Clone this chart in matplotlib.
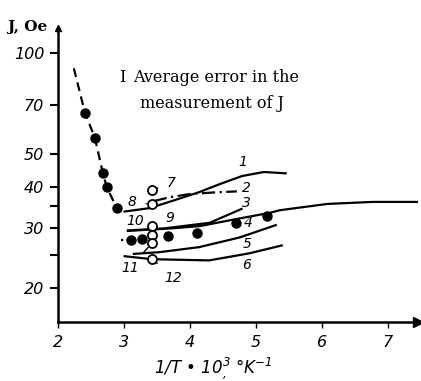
import numpy as np
import matplotlib
matplotlib.use("Agg")
import matplotlib.pyplot as plt
from matplotlib.ticker import NullFormatter

plt.rcParams['font.family'] = ['DejaVu Sans']
plt.rcParams['mathtext.fontset'] = 'custom'
plt.rcParams['mathtext.rm'] = 'DejaVu Sans:italic'
plt.rcParams['mathtext.it'] = 'DejaVu Sans:italic'

# ---- data ----
dash_x = [2.24, 2.41, 2.56, 2.68, 2.74, 2.89]
dash_y = [90.0, 66.2, 55.8, 43.8, 39.8, 34.5]
dash2_x = [2.96, 3.08]
dash2_y = [27.7, 27.7]

pts_x = [2.41, 2.56, 2.68, 2.74, 2.89, 3.11, 3.28, 3.66, 4.11, 4.70, 5.17]
pts_y = [66.2, 55.8, 43.8, 39.8, 34.5, 27.7, 28.0, 28.4, 29.0, 31.1, 32.6]

c1_x = [3.01, 3.39, 3.76, 4.14, 4.44, 4.79, 5.12, 5.45]
c1_y = [33.7, 34.5, 36.4, 38.5, 40.6, 43.0, 44.2, 43.8]
c2_x = [3.45, 3.70, 4.00, 4.35, 4.71]
c2_y = [36.2, 37.2, 38.0, 38.4, 38.7]
c3_x = [3.06, 3.60, 4.30, 4.78]
c3_y = [29.6, 30.0, 31.2, 34.3]
c4_x = [3.06, 3.30, 3.70, 4.15, 4.70, 5.21, 5.36, 6.08, 6.77, 7.48]
c4_y = [29.5, 29.7, 30.0, 30.5, 32.0, 33.4, 34.0, 35.5, 36.0, 36.0]
c5_x = [3.15, 3.54, 4.14, 4.75, 5.30]
c5_y = [25.2, 25.5, 26.4, 28.2, 30.7]
c6_x = [3.01, 3.42, 4.29, 4.90, 5.39]
c6_y = [24.8, 24.3, 24.1, 25.3, 26.7]

open_x = [3.42, 3.42, 3.42, 3.42, 3.42, 3.42]
open_y = [39.0, 35.4, 30.5, 28.6, 27.1, 24.4]
open_labels = ['7', '8', '9', '10', '11', '12']
open_label_pos = [(3.72, 41.0), (3.12, 36.0), (3.70, 32.2), (3.17, 31.6), (3.09, 22.9), (3.75, 21.4)]

curve_labels = ['1', '2', '3', '4', '5', '6']
curve_label_pos = [(4.80, 47.3), (4.86, 39.6), (4.86, 35.7), (4.88, 31.1), (4.86, 27.0), (4.86, 23.4)]

xticks = [2, 3, 4, 5, 6, 7]
yticks = [20, 30, 40, 50, 70, 100]
yminor = [25, 35]

# ---- figure ----
fig = plt.figure(figsize=(4.21, 3.81), dpi=100)
ax = fig.add_axes([58/421, (381-322)/381, (418-58)/421, (322-28)/381])
ax.set_yscale('log')
ax.set_xlim(2, 2 + (418-58)/66.0)
ax.set_ylim(10**(2-(322-53)/335.6), 10**(2+(53-28)/335.6))

lw = 1.6
ax.plot(dash_x, dash_y, color='black', lw=lw, ls=(0, (4, 2.5)))
ax.plot(dash2_x, dash2_y, color='black', lw=lw, ls=(0, (1, 1.5, 3, 1.5)))
ax.plot(c1_x, c1_y, color='black', lw=lw)
ax.plot(c2_x, c2_y, color='black', lw=lw, ls=(0, (6, 2, 1, 2)))
ax.plot(c3_x, c3_y, color='black', lw=lw)
ax.plot(c4_x, c4_y, color='black', lw=lw)
ax.plot(c5_x, c5_y, color='black', lw=lw)
ax.plot(c6_x, c6_y, color='black', lw=lw)
ax.plot(pts_x, pts_y, 'o', color='black', ms=6.5, ls='none', zorder=4)
ax.plot(open_x, open_y, 'o', mfc='white', mec='black', mew=1.3, ms=6.5, ls='none', zorder=5)

for lab, (tx, ty), ox, oy in zip(open_labels, open_label_pos, open_x, open_y):
    ax.annotate(lab, xy=(ox, oy), xytext=(tx, ty), fontsize=10, style='italic',
                ha='center', va='center',
                arrowprops=dict(arrowstyle='-', lw=1.0, color='black', shrinkA=5, shrinkB=4))

for lab, (tx, ty) in zip(curve_labels, curve_label_pos):
    ax.text(tx, ty, lab, fontsize=10, style='italic', ha='center', va='center')

# axes styling
for s in ['top', 'right']:
    ax.spines[s].set_visible(False)
for s in ['left', 'bottom']:
    ax.spines[s].set_linewidth(1.8)
ax.set_xticks(xticks)
ax.set_xticklabels([str(v) for v in xticks], fontsize=11.5, style='italic')
ax.set_yticks(yticks)
ax.set_yticklabels([str(v) for v in yticks], fontsize=11.5, style='italic')
ax.set_yticks(yminor, minor=True)
ax.yaxis.set_minor_formatter(NullFormatter())
ax.tick_params(axis='y', which='both', direction='out', length=6, width=1.5, pad=4)
ax.tick_params(axis='x', which='both', direction='out', length=4.5, width=1.0, pad=5)

ax.plot(1, 0, '>', color='black', ms=7, transform=ax.transAxes, clip_on=False)
ax.plot(0, 1, '^', color='black', ms=5, transform=ax.transAxes, clip_on=False)

fig.text(7/421, 1-27/381, 'J, Oe', fontsize=11, fontweight='bold', family='DejaVu Serif', va='center', ha='left')
fig.text(122/421, 1-77/381, 'I', fontsize=11.5, family='DejaVu Serif', va='center', ha='center')
fig.text(133/421, 1-77/381, 'Average error in the', fontsize=11.5, family='DejaVu Serif', va='center', ha='left')
fig.text(212/421, 1-103/381, 'measurement of J', fontsize=11.5, family='DejaVu Serif', va='center', ha='center')
fig.text(213/421, 1-368/381, '1/T • 10$^{3}_{,}$ °K$^{-1}$', fontsize=12, style='italic', va='center', ha='center')

fig.savefig('out.png', dpi=100)
